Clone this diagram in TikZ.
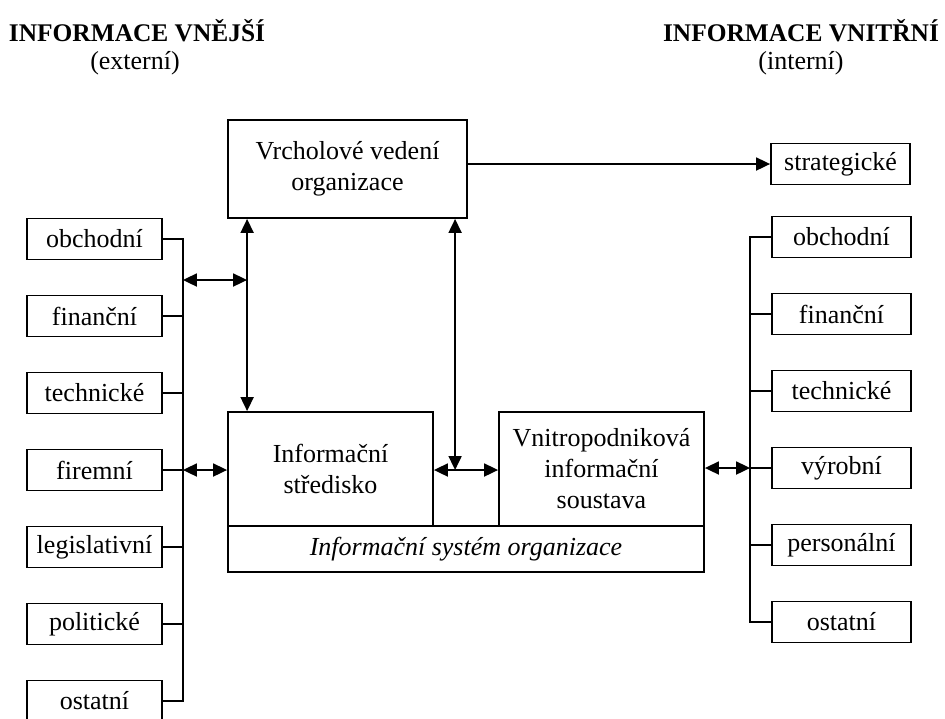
\documentclass[tikz,border=0pt]{standalone}
\usepackage{fontspec}
\setmainfont{Liberation Serif}
\usetikzlibrary{arrows.meta,calc}

\begin{document}
\begin{tikzpicture}[x=0.5pt,y=-0.5pt,
    box/.style = {draw, line width=0.9pt, align=center, inner sep=2pt, font=\fontsize{13}{15.5}\selectfont},
    ext/.style = {box, minimum width=67.5pt, minimum height=20.5pt},
    int/.style = {box, minimum width=69.5pt, minimum height=20.5pt},
    title/.style = {font=\fontsize{12.7}{15.5}\selectfont\bfseries},
    sub/.style = {font=\fontsize{13}{15.5}\selectfont},
    link/.style = {line width=0.9pt},
    dbl/.style = {link, {Triangle[length=7pt,width=6.5pt]}-{Triangle[length=7pt,width=6.5pt]}},
    one/.style = {link, -{Triangle[length=7pt,width=6.5pt]}},
    node distance={38.5pt}]
        \useasboundingbox (0,0) rectangle (945,718);

        % headings
        \node[title] (ext) at (137,31) {INFORMACE VNĚJŠÍ};
        \node[sub] (extsub) at (135,63) {(externí)};
        \node[title] (int) at (801,31) {INFORMACE VNITŘNÍ};
        \node[sub] (intsub) at (801,63) {(interní)};

        % middle part
        \node[box, minimum width=119.5pt, minimum height=49pt] (vedeni) at (347.5,169) {Vrcholové vedení\\organizace};
        \node[box, minimum width=102.5pt, minimum height=57pt] (stredisko) at (330.5,469) {Informační\\středisko};
        \node[box, minimum width=102.5pt, minimum height=57pt] (vnitro) at (601.5,469) {Vnitropodniková\\informační\\soustava};
        \node[box, minimum width=238pt, minimum height=23pt, font=\fontsize{13}{15.5}\selectfont\itshape] (system) at (466,549) {Informační systém organizace};

        % external sources
        \node[ext] (l1) at (94.5,239) {obchodní};
        \node[ext] (l2) [below of=l1] {finanční};
        \node[ext] (l3) [below of=l2] {technické};
        \node[ext] (l4) [below of=l3] {firemní};
        \node[ext] (l5) [below of=l4] {legislativní};
        \node[ext] (l6) [below of=l5] {politické};
        \node[ext] (l7) [below of=l6] {ostatní};

        % internal ones
        \node[int] (s) at (840.5,164) {strategické};
        \node[int] (r1) at (841.5,237) {obchodní};
        \node[int] (r2) [below of=r1] {finanční};
        \node[int] (r3) [below of=r2] {technické};
        \node[int] (r4) [below of=r3] {výrobní};
        \node[int] (r5) [below of=r4] {personální};
        \node[int] (r6) [below of=r5] {ostatní};

        % buses
        \coordinate (lbus) at ([xshift=10pt]l1.east);
        \coordinate (rbus) at ([xshift=-10.5pt]r1.west);
        \draw[link] (l1.east) -| (lbus |- l7) -- (l7.east);
        \foreach \i in {2,...,6}
            \draw[link] (l\i.east) -- (lbus |- l\i);
        \draw[link] (r1.west) -| (rbus |- r6) -- (r6.west);
        \foreach \i in {2,...,5}
            \draw[link] (r\i.west) -- (rbus |- r\i);

        % arrows
        \coordinate (sn) at ([xshift=10pt]stredisko.north west);
        \coordinate (mid) at ($(stredisko.east |- l4)!0.33!(vnitro.west |- l4)$);
        \draw[one] (vedeni.east |- s) -- (s.west);
        \draw[dbl] (sn |- vedeni.south) -- (sn);
        \draw[dbl] (lbus |- 0,280) -- (sn |- 0,280);
        \draw[dbl] (lbus |- l4) -- (stredisko.west |- l4);
        \draw[dbl] (stredisko.east |- l4) -- (vnitro.west |- l4);
        \draw[dbl] (mid |- vedeni.south) -- (mid);
        \draw[dbl] (vnitro.east |- r4) -- (rbus |- r4);
\end{tikzpicture}
\end{document}
